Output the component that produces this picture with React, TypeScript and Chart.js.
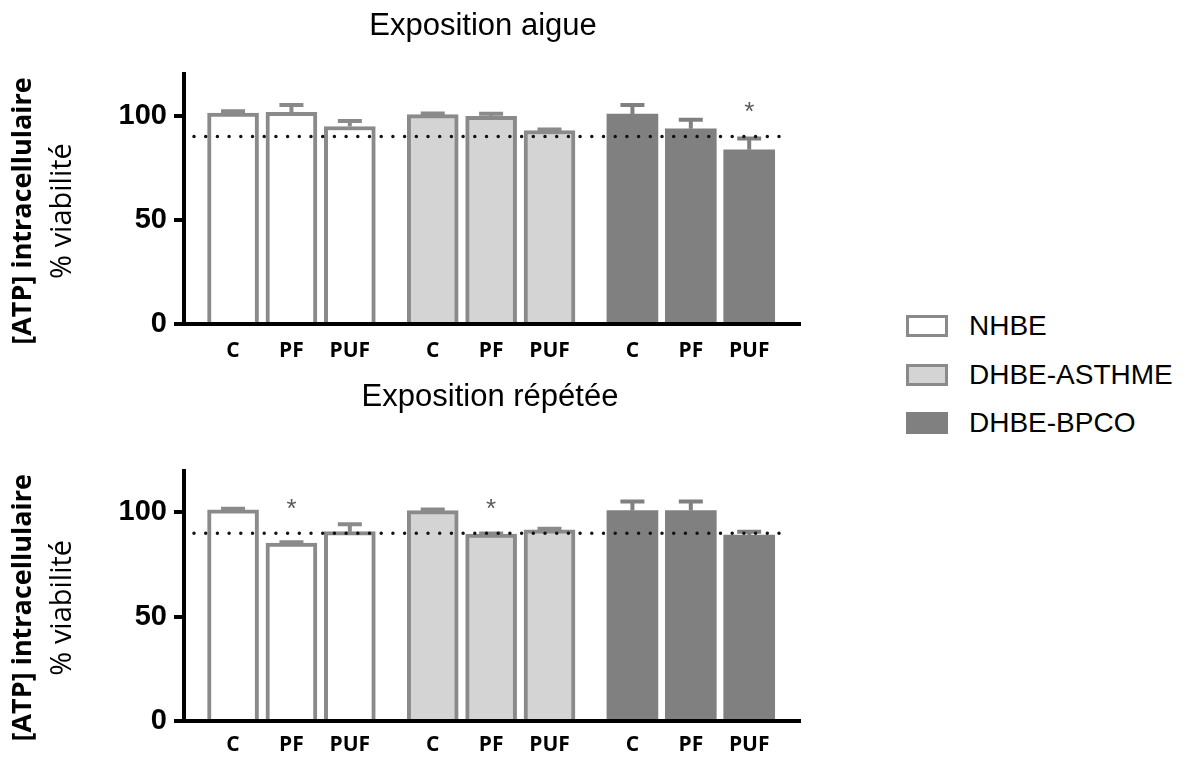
import React, { useEffect, useRef } from 'react';
import { Chart, registerables } from 'chart.js';

Chart.register(...registerables);

// ---------- data ----------
const categories = ['C', 'PF', 'PUF'];
const cellTypes = ['NHBE', 'DHBE-ASTHME', 'DHBE-BPCO'];
const yTicks = [0, 50, 100];
const thresholdValue = 90;
const starLevel = 105;

const aigueNHBE = [101.3, 101.6, 94.8];
const aigueNHBEErr = [0.8, 3.5, 2.6];
const aigueAsthme = [100.5, 99.7, 92.9];
const aigueAsthmeErr = [0.6, 1.2, 0.5];
const aigueBPCO = [100.8, 93.7, 83.6];
const aigueBPCOErr = [4.3, 4.3, 5.4];
const aigueStars = [
  [false, false, false],
  [false, false, false],
  [false, false, true],
];

const repeteeNHBE = [101.1, 85.2, 90.7];
const repeteeNHBEErr = [0.6, 0.4, 3.6];
const repeteeAsthme = [100.8, 89.6, 91.6];
const repeteeAsthmeErr = [0.5, 0.2, 0.5];
const repeteeBPCO = [100.8, 100.8, 89.1];
const repeteeBPCOErr = [4.3, 4.3, 1.6];
const repeteeStars = [
  [false, true, false],
  [false, true, false],
  [false, false, false],
];

// ---------- styles ----------
const fills = ['#ffffff', '#d4d4d4', '#808080'];
const borders = ['#8a8a8a', '#8a8a8a', '#808080'];
const borderWidths = [4, 4, 0];
const GROUP_STRIDE = 3.42;
const X_MIN = -0.84;
const X_MAX = 9.71;

type PanelProps = {
  title: string;
  titleX: number;
  titleY: number;
  means: number[][];
  errs: number[][];
  stars: boolean[][];
  top: number;
  height: number;
  padTop: number;
  padBottom: number;
  xHeight: number;
  labelPad: number;
};

function Panel(props: PanelProps) {
  const ref = useRef<HTMLCanvasElement | null>(null);
  useEffect(() => {
    const canvas = ref.current;
    if (!canvas) return;
    const positions: number[] = [];
    cellTypes.forEach((_, g) => categories.forEach((__, i) => positions.push(g * GROUP_STRIDE + i)));

    const datasets = cellTypes.map((name, g) => ({
      label: name,
      data: props.means[g].map((v, i) => ({ x: g * GROUP_STRIDE + i, y: v })),
      backgroundColor: fills[g],
      borderColor: borders[g],
      borderWidth: borderWidths[g],
      barThickness: 51,
      grouped: false,
      borderSkipped: 'start' as const,
    }));

    const overlay = {
      id: 'overlay',
      afterDatasetsDraw(chart: any) {
        const ctx = chart.ctx;
        const yScale = chart.scales.y;
        const area = chart.chartArea;
        // error bars
        cellTypes.forEach((_, g) => {
          const meta = chart.getDatasetMeta(g);
          meta.data.forEach((el: any, i: number) => {
            const top = yScale.getPixelForValue(props.means[g][i] + props.errs[g][i]);
            ctx.save();
            ctx.strokeStyle = borders[g];
            ctx.lineWidth = 4;
            ctx.beginPath();
            ctx.moveTo(el.x, el.y);
            ctx.lineTo(el.x, top);
            ctx.moveTo(el.x - 12, top);
            ctx.lineTo(el.x + 12, top);
            ctx.stroke();
            ctx.restore();
            if (props.stars[g][i]) {
              const cy = yScale.getPixelForValue(starLevel);
              ctx.save();
              ctx.fillStyle = '#5a5a5a';
              ctx.font = '26px "Liberation Sans"';
              ctx.textAlign = 'center';
              ctx.textBaseline = 'alphabetic';
              ctx.fillText('*', el.x, cy + 26 * 0.57);
              ctx.restore();
            }
          });
        });
        // dotted threshold line
        const ty = yScale.getPixelForValue(thresholdValue);
        ctx.save();
        ctx.strokeStyle = '#111111';
        ctx.lineWidth = 3.5;
        ctx.lineCap = 'round';
        ctx.setLineDash([0, 11.7]);
        ctx.beginPath();
        ctx.moveTo(area.left + 10, ty);
        ctx.lineTo(area.right - 12, ty);
        ctx.stroke();
        ctx.restore();
      },
      afterDraw(chart: any) {
        const ctx = chart.ctx;
        const area = chart.chartArea;
        ctx.save();
        ctx.fillStyle = '#000';
        ctx.font = '31px "Liberation Sans"';
        ctx.textAlign = 'center';
        ctx.textBaseline = 'alphabetic';
        ctx.fillText(props.title, props.titleX, props.titleY);
        const midY = (area.top + area.bottom) / 2 + 12;
        ctx.translate(0, midY);
        ctx.rotate(-Math.PI / 2);
        ctx.textBaseline = 'middle';
        ctx.font = 'bold 27px "Open Sans"';
        ctx.fillText('[ATP] intracellulaire', 0, 23);
        ctx.font = '29px "Open Sans"';
        ctx.fillText('% viabilité', 0, 63);
        ctx.restore();
      },
    };

    const chart = new Chart(canvas, {
      type: 'bar',
      data: { datasets },
      options: {
        responsive: false,
        animation: false,
        events: [],
        layout: { padding: { top: props.padTop, left: 0, right: 30, bottom: props.padBottom } },
        plugins: { legend: { display: false }, tooltip: { enabled: false }, title: { display: false } },
        scales: {
          x: {
            type: 'linear',
            min: X_MIN,
            max: X_MAX,
            offset: false,
            grid: { display: true, drawOnChartArea: false, drawTicks: false },
            border: { display: true, color: '#000', width: 4, z: 1 },
            afterBuildTicks: (s: any) => {
              s.ticks = positions.map((v) => ({ value: v }));
            },
            afterFit: (s: any) => {
              s.height = props.xHeight;
            },
            ticks: {
              autoSkip: false,
              maxRotation: 0,
              padding: props.labelPad,
              color: '#000',
              font: { family: 'Open Sans', weight: 'bold', size: 21 },
              callback: (_v: any, i: number) => categories[i % categories.length],
            },
          },
          y: {
            type: 'linear',
            min: 0,
            max: 120,
            grid: {
              display: true,
              drawOnChartArea: false,
              drawTicks: true,
              tickLength: 10,
              tickWidth: 4,
              lineWidth: 4,
              tickColor: '#000',
              z: 1,
            },
            border: { display: true, color: '#000', width: 4, z: 1 },
            afterBuildTicks: (s: any) => {
              s.ticks = yTicks.map((v) => ({ value: v }));
            },
            afterFit: (s: any) => {
              s.width = 184;
            },
            ticks: {
              padding: 7,
              color: '#000',
              font: { family: 'Liberation Sans', weight: 'bold', size: 29 },
            },
          },
        },
      } as any,
      plugins: [overlay],
    });
    return () => chart.destroy();
  }, []);
  return (
    <canvas
      ref={ref}
      width={830}
      height={props.height}
      style={{ position: 'absolute', left: 0, top: props.top, width: 830, height: props.height }}
    />
  );
}

export default function App() {
  return (
    <div
      style={{
        position: 'absolute',
        left: 0,
        top: 0,
        width: 1186,
        height: 758,
        overflow: 'hidden',
        background: '#fff',
      }}
    >
      <Panel
        title="Exposition aigue"
        titleX={483}
        titleY={35}
        means={[aigueNHBE, aigueAsthme, aigueBPCO]}
        errs={[aigueNHBEErr, aigueAsthmeErr, aigueBPCOErr]}
        stars={aigueStars}
        top={0}
        height={370}
        padTop={74}
        padBottom={6}
        xHeight={40}
        labelPad={14}
      />
      <Panel
        title="Exposition répétée"
        titleX={490}
        titleY={36}
        means={[repeteeNHBE, repeteeAsthme, repeteeBPCO]}
        errs={[repeteeNHBEErr, repeteeAsthmeErr, repeteeBPCOErr]}
        stars={repeteeStars}
        top={370}
        height={388}
        padTop={100.5}
        padBottom={7}
        xHeight={30}
        labelPad={11}
      />
      {cellTypes.map((name, g) => (
        <div
          key={name}
          style={{
            position: 'absolute',
            left: 906,
            top: 315 + g * 48.5,
            height: 22,
            display: 'flex',
            alignItems: 'center',
          }}
        >
          <div
            style={{
              width: 42,
              height: 22,
              boxSizing: 'border-box',
              border: `3px solid ${borders[g]}`,
              background: fills[g],
            }}
          />
          <div
            style={{
              marginLeft: 21,
              fontFamily: '"Liberation Sans", Arial, sans-serif',
              fontSize: 28,
              lineHeight: '22px',
              color: '#000',
              whiteSpace: 'nowrap',
            }}
          >
            {name}
          </div>
        </div>
      ))}
    </div>
  );
}
